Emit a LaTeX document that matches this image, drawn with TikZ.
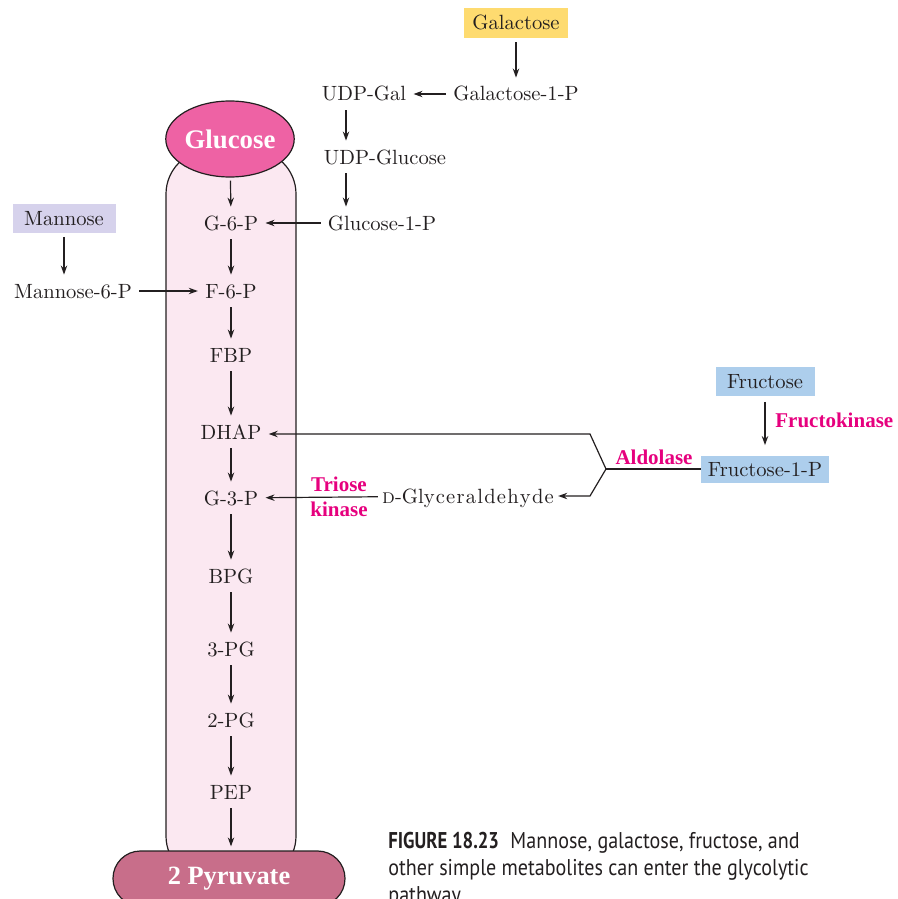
\documentclass[tikz,border=0pt]{standalone}
\usepackage{fontspec}
\newfontfamily\capfont[FakeStretch=0.88]{PT Sans}
\newfontfamily\capboldfont[FakeStretch=0.82]{PT Sans Bold}
\newfontfamily\labelbold{Liberation Serif Bold}
\usepackage{tikz}
\usetikzlibrary{arrows.meta,shapes.geometric}

\definecolor{inkgray}{RGB}{35,31,32}
\definecolor{glucpink}{RGB}{238,98,164}
\definecolor{tubepink}{RGB}{251,232,241}
\definecolor{pyrrose}{RGB}{200,110,138}
\definecolor{enzmag}{RGB}{230,0,126}
\definecolor{galyellow}{RGB}{254,219,112}
\definecolor{manlav}{RGB}{214,210,236}
\definecolor{frublue}{RGB}{173,206,236}

\tikzset{
  met/.style={font=\fontsize{10.3}{12}\selectfont, text=inkgray, text height=7pt, text depth=0pt,
    inner xsep=3.5pt, inner ysep=4.5pt},
  srcbox/.style={met, inner sep=0pt},
  enz/.style={font=\labelbold\fontsize{10.5}{12.5}\selectfont, text=enzmag, inner sep=1pt},
  rxn/.style={-{Stealth[length=4.5pt,width=3.2pt]}, line width=0.6pt, draw=inkgray},
  bond/.style={line width=0.6pt, draw=inkgray},
}

\begin{document}
\begin{tikzpicture}[x=0.5pt,y=-0.5pt]
  \clip (0,0) rectangle (898,899);

  % glycolytic tube
  \draw[bond, fill=tubepink, rounded corners=22pt] (166,150) rectangle (296,880);
  \node[draw=inkgray, line width=0.6pt, fill=pyrrose, rounded corners=13.7pt,
    minimum width=116pt, minimum height=27.5pt, text=white,
    font=\labelbold\fontsize{13.2}{14}\selectfont] (pyr) at (229,878.5) {2 Pyruvate};
  \node[ellipse, draw=inkgray, line width=0.6pt, fill=glucpink, minimum width=63pt,
    minimum height=38pt, inner sep=0pt, text=white,
    font=\labelbold\fontsize{13.4}{14}\selectfont] (glc) at (230,139) {Glucose};

  % main pathway
  \node[met] (g6p)  at (231,223) {G-6-P};
  \node[met] (f6p)  at (231,291) {F-6-P};
  \node[met] (fbp)  at (231,355) {FBP};
  \node[met] (dhap) at (231,432) {DHAP};
  \node[met] (g3p)  at (231,498) {G-3-P};
  \node[met] (bpg)  at (231,576) {BPG};
  \node[met] (pg3)  at (231,649) {3-PG};
  \node[met] (pg2)  at (231,720) {2-PG};
  \node[met] (pep)  at (231,792) {PEP};

  \draw[rxn, shorten <=1.5pt] (glc) -- (g6p);
  \draw[rxn] (g6p) -- (f6p);
  \draw[rxn] (f6p) -- (fbp);
  \draw[rxn] (fbp) -- (dhap);
  \draw[rxn] (dhap) -- (g3p);
  \draw[rxn] (g3p) -- (bpg);
  \draw[rxn] (bpg) -- (pg3);
  \draw[rxn] (pg3) -- (pg2);
  \draw[rxn] (pg2) -- (pep);
  \draw[rxn, shorten >=2pt] (pep) -- (pep |- pyr.north);

  % galactose
  \node[srcbox, fill=galyellow, minimum width=52pt, minimum height=15pt] (gal) at (516,23) {Galactose};
  \node[met] (gal1p)  at (516,94)  {Galactose-1-P};
  \node[met] (udpgal) at (364,94)  {UDP-Gal};
  \node[met] (udpglc) at (385,157) {UDP-Glucose};
  \node[met] (glc1p)  at (382,223) {Glucose-1-P};
  \coordinate (udpx) at (346,0);

  \draw[rxn, shorten <=2pt] (gal) -- (gal1p);
  \draw[rxn] (gal1p) -- (udpgal);
  \draw[rxn] (udpgal.south -| udpx) -- (udpglc.north -| udpx);
  \draw[rxn] (udpglc.south -| udpx) -- (glc1p.north -| udpx);
  \draw[rxn] (glc1p) -- (g6p);

  % mannose
  \node[srcbox, fill=manlav, minimum width=51.5pt, minimum height=14.5pt] (man) at (64,218) {Mannose};
  \node[met] (man6p) at (73,291) {Mannose-6-P};
  \draw[rxn, shorten <=2pt] (man.south -| 64,0) -- (man6p.north -| 64,0);
  \draw[rxn] (man6p) -- (f6p);

  % fructose
  \node[srcbox, fill=frublue, minimum width=49.5pt, minimum height=14.5pt] (fru) at (765,381) {Fructose};
  \node[srcbox, fill=frublue, minimum width=64pt, minimum height=13.5pt] (fru1p) at (765,469) {Fructose-1-P};
  \draw[rxn, shorten <=3pt, shorten >=5pt] (fru) -- (fru1p);
  \node[enz, anchor=west] (fk) at (773,420) {Fructokinase};

  \node[enz] (ald) at (654,457) {Aldolase};
  \coordinate (fork)   at (606,469);
  \coordinate (forkup) at (590,434);
  \coordinate (forkdn) at (590,496);
  \node[met, inner xsep=2pt] (glyc) at (468,496) {\textsc{d}-Gly\kern.6pt c\kern.6pt e\kern.6pt r\kern.6pt a\kern.6pt l\kern.6pt d\kern.6pt e\kern.6pt h\kern.6pt y\kern.6pt d\kern.6pt e};
  \draw[bond] (fru1p) -- (fork);
  \draw[rxn] (fork) -- (forkup) -- (forkup -| dhap.east);
  \draw[rxn] (fork) -- (forkdn) -- (forkdn -| glyc.east);
  \draw[rxn] (glyc) -- (g3p);
  \node[enz, align=center] (trk) at (339,497) {Triose\\kinase};

  % caption
  \node[anchor=north west, align=left, inner sep=0pt, text=inkgray,
    font=\capfont\fontsize{11.4}{13.5}\selectfont] (cap) at (388,832)
    {{\capboldfont FIGURE 18.23}\enspace Mannose, galactose, fructose, and\\
     other simple metabolites can enter the glycolytic\\
     pathway.};
\end{tikzpicture}
\end{document}
